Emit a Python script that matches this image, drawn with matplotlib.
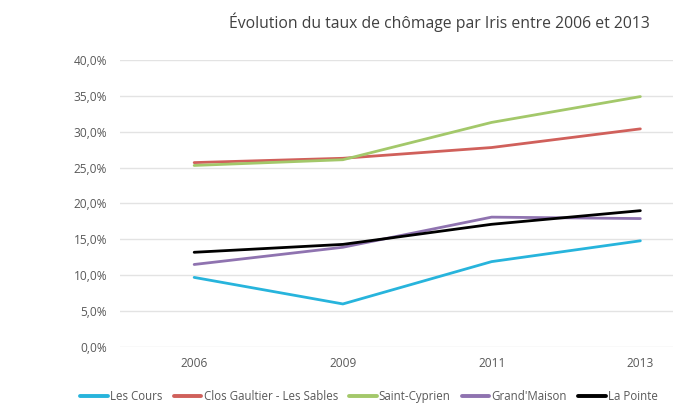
import matplotlib
matplotlib.use("Agg")
import matplotlib.pyplot as plt
from matplotlib.ticker import FuncFormatter

plt.rcParams['font.family'] = ['Open Sans', 'DejaVu Sans']

## Données
annees = ['2006', '2009', '2011', '2013']
les_cours = [9.7, 6.0, 11.9, 14.8]
clos_gaultier = [25.7, 26.3, 27.8, 30.4]
saint_cyprien = [25.3, 26.1, 31.3, 34.9]
grand_maison = [11.5, 13.9, 18.1, 17.9]
la_p = [13.2, 14.3, 17.1, 19.0]

series = [
    ('Les Cours', les_cours, '#27b4dc'),
    ('Clos Gaultier - Les Sables', clos_gaultier, '#d0605b'),
    ('Saint-Cyprien', saint_cyprien, '#a3c86a'),
    ("Grand'Maison", grand_maison, '#8f73b0'),
    ('La Pointe', la_p, '#000000'),
]

## Graphique
fig = plt.figure(figsize=(6.73, 4.05), dpi=100)
ax = fig.add_axes([0.178, 0.1432, 0.884, 0.7087])

x = range(len(annees))
for nom, valeurs, couleur in series:
    ax.plot(x, valeurs, color=couleur, linewidth=2.0, label=nom,
            solid_capstyle='round')

ax.set_xlim(-0.5, len(annees) - 0.5)
ax.set_ylim(0, 40)
ax.set_yticks(range(0, 41, 5))
ax.yaxis.set_major_formatter(FuncFormatter(lambda v, p: f"{v:.1f}%".replace('.', ',')))
ax.set_xticks(list(x))
ax.set_xticklabels(annees)
ax.tick_params(length=0, labelsize=8.6, labelcolor='#595959')
ax.tick_params(axis='y', pad=9)
ax.tick_params(axis='x', pad=7)
ax.grid(axis='y', color='#e3e3e3', linewidth=1.0)
ax.set_axisbelow(True)
for s in ax.spines.values():
    s.set_visible(False)

fig.text(0.6525, 0.945, "Évolution du taux de chômage par Iris entre 2006 et 2013",
         ha='center', va='center', fontsize=11.3, color='#404040')

leg = fig.legend(loc='center left', bbox_to_anchor=(0.104, 0.022), ncol=5,
                 frameon=False, fontsize=8.3, handlelength=2.4, handletextpad=0.2,
                 columnspacing=0.95, labelcolor='#595959')
for h in leg.legend_handles:
    h.set_linewidth(2.8)

fig.savefig("out.png", dpi=100)
